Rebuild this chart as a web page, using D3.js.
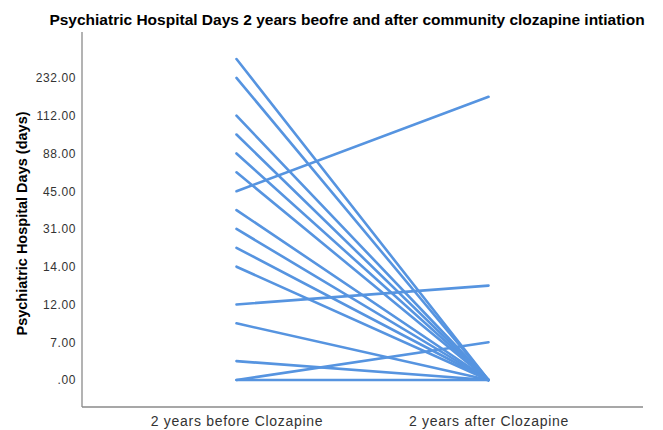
<!DOCTYPE html>
<html><head><meta charset="utf-8">
<script src="https://cdn.jsdelivr.net/npm/d3@7"></script>
<style>body{margin:0;background:#fff;} svg{display:block;}</style>
</head><body>
<svg id="chart" width="663" height="430"></svg>
<script>
// Categorical y values (sorted unique values); only every other one is labelled
const yCategories = [0, 4, 7, 10, 12, 13, 14, 21, 31, 38, 45, 60, 88, 98, 112, 150, 232, 300];
const yTickLabels = [".00", "7.00", "12.00", "14.00", "31.00", "45.00", "88.00", "112.00", "232.00"];
const yTickValues = [0, 7, 12, 14, 31, 45, 88, 112, 232];
const timepoints = ["2 years before Clozapine", "2 years after Clozapine"];
const beforeDays = [300, 232, 112, 98, 88, 60, 45, 38, 31, 21, 14, 12, 10, 4, 0, 0];
const afterDays  = [0,   0,   0,   0,  0,  0,  150, 0, 0,  0,  0,  13, 0,  0, 0, 7];

const svg = d3.select("#chart");
const plot = {left: 82, right: 643, top: 32, bottom: 407};
const FONT = "Liberation Sans, Arial, sans-serif";

const x = d3.scalePoint().domain(timepoints).range([plot.left, plot.right]).padding(0.613);
const y = d3.scalePoint().domain(yCategories).range([plot.bottom, plot.top]).padding(1.43);

// title
svg.append("text").attr("x", 347).attr("y", 25).attr("text-anchor", "middle")
  .attr("font-family", FONT).attr("font-weight", "bold")
  .attr("font-size", 15.5).attr("fill", "#000")
  .text("Psychiatric Hospital Days 2 years beofre and after community clozapine intiation");

// lines
const pairs = beforeDays.map((b, i) => [b, afterDays[i]]);
const line = d3.line().x((d, i) => x(timepoints[i])).y(d => y(d));
svg.append("g").selectAll("path").data(pairs).join("path")
  .attr("d", d => line(d)).attr("fill", "none")
  .attr("stroke", "#5694e0").attr("stroke-width", 2.6).attr("stroke-linecap", "round");

// y axis
const yAxis = d3.axisLeft(y).tickValues(yTickValues).tickSize(0).tickPadding(6)
  .tickFormat(d => yTickLabels[yTickValues.indexOf(d)]);
const gy = svg.append("g").attr("transform", `translate(${plot.left},0)`).call(yAxis);
gy.select(".domain").attr("d", `M0,${plot.top}V${plot.bottom}`).attr("stroke", "#8a8a8a").attr("stroke-width", 1.3);
gy.selectAll("text").attr("font-family", FONT).attr("font-size", 12).attr("letter-spacing", "0.6px").attr("fill", "#333");

// x axis
const xAxis = d3.axisBottom(x).tickSize(0).tickPadding(9);
const gx = svg.append("g").attr("transform", `translate(0,${plot.bottom})`).call(xAxis);
gx.select(".domain").attr("d", `M${plot.left},0H${plot.right}`).attr("stroke", "#8a8a8a").attr("stroke-width", 1.3);
gx.selectAll("text").attr("font-family", FONT).attr("font-size", 14).attr("letter-spacing", "0.7px").attr("fill", "#333");

// y title
svg.append("text").attr("transform", `translate(27,${(plot.top + plot.bottom) / 2 + 4}) rotate(-90)`)
  .attr("text-anchor", "middle").attr("font-family", FONT)
  .attr("font-weight", "bold").attr("font-size", 14.5).attr("fill", "#000")
  .text("Psychiatric Hospital Days (days)");
</script>
</body></html>
